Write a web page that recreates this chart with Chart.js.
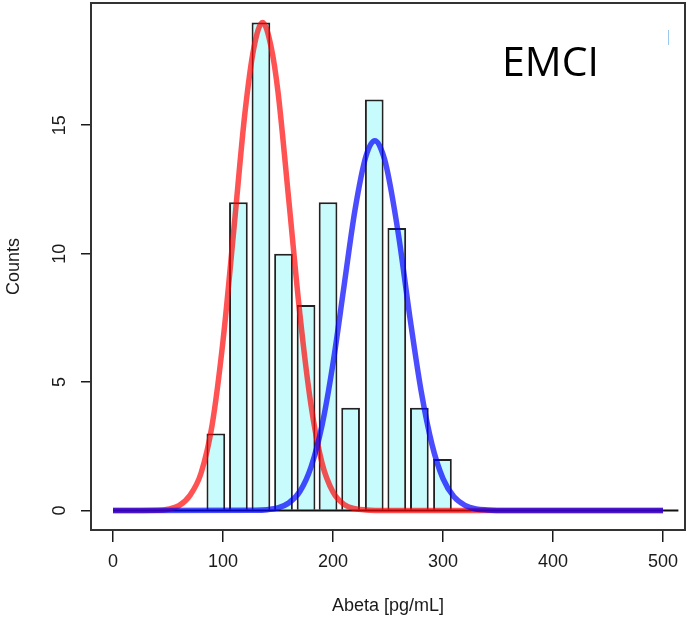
<!DOCTYPE html>
<html lang="en">
<head>
    <meta charset="UTF-8">
    <title>EMCI Abeta histogram</title>
    <script src="https://cdn.jsdelivr.net/npm/chart.js"></script>
    <style>
        body {
            margin: 0;
            padding: 0;
            background: #fff;
        }
        #wrap {
            width: 690px;
            height: 627px;
        }
    </style>
</head>
<body>

<div id="wrap">
    <canvas id="abetaChart" width="690" height="627"></canvas>
</div>

<script>
    // Histogram bins (centre of each bin) and their counts
    const binCentres = [93.5, 114, 134.5, 155, 175.5, 195.5, 216, 237.5, 258, 278.5, 299.5];
    const counts = [3, 12, 19, 10, 8, 12, 4, 16, 11, 4, 2];

    // Fitted component curves, low Abeta (red) and high Abeta (blue)
    const redX = [0, 40, 50, 60, 70, 80, 90, 100, 110, 120, 128, 136, 144, 150, 160, 170, 180, 190, 200, 210, 220, 230, 250, 500];
    const redY = [0, 0.01, 0.05, 0.19, 0.59, 1.45, 3.3, 6.6, 11.0, 15.5, 18.0, 19.0, 18.0, 16.3, 12.0, 7.6, 4.1, 1.85, 0.72, 0.24, 0.07, 0.02, 0, 0];
    const blueX = [0, 130, 140, 150, 160, 170, 180, 190, 200, 210, 220, 230, 238, 246, 250, 260, 270, 280, 290, 300, 310, 320, 330, 340, 360, 500];
    const blueY = [0, 0.01, 0.03, 0.10, 0.30, 0.75, 1.69, 3.31, 5.73, 8.73, 11.7, 13.8, 14.4, 13.8, 13.1, 10.6, 7.49, 4.68, 2.57, 1.24, 0.53, 0.20, 0.06, 0.02, 0, 0];

    // Zero reference line
    const baseX = [0, 514];
    const baseY = [0, 0];

    // Axis ticks
    const xTicks = [0, 100, 200, 300, 400, 500];
    const yTicks = [0, 5, 10, 15];

    const toPoints = (xs, ys) => xs.map((x, i) => ({ x: x, y: ys[i] }));

    const axisFont = { family: "'Liberation Sans', Arial, sans-serif", size: 18 };
    const ink = '#1a1a1a';

    // keep the plot box where it is, whatever the label sizes
    const noPad = s => {
        s.paddingTop = 0;
        s.paddingBottom = 0;
        s.paddingLeft = 0;
        s.paddingRight = 0;
    };

    // Plot frame plus the panel label
    const framePlugin = {
        id: 'frame',
        afterDraw(chart) {
            const { ctx, chartArea: a } = chart;
            ctx.save();
            ctx.strokeStyle = '#333';
            ctx.lineWidth = 2;
            ctx.strokeRect(a.left, a.top, a.right - a.left, a.bottom - a.top);

            ctx.fillStyle = '#000';
            ctx.font = "41px 'Open Sans', sans-serif";
            ctx.textAlign = 'left';
            ctx.textBaseline = 'alphabetic';
            ctx.fillText('EMCI', 502, 76);

            ctx.strokeStyle = 'rgba(140, 195, 240, 0.9)';
            ctx.lineWidth = 1;
            ctx.beginPath();
            ctx.moveTo(668.5, 30);
            ctx.lineTo(668.5, 45);
            ctx.stroke();
            ctx.restore();
        }
    };

    const ctx = document.getElementById('abetaChart').getContext('2d');
    const abetaChart = new Chart(ctx, {
        type: 'bar',
        data: {
            datasets: [
                {
                    type: 'line',
                    data: toPoints(blueX, blueY),
                    borderColor: 'rgba(0, 0, 255, 0.7)',
                    borderWidth: 5.5,
                    pointRadius: 0,
                    cubicInterpolationMode: 'monotone',
                    order: 1
                },
                {
                    type: 'line',
                    data: toPoints(redX, redY),
                    borderColor: 'rgba(255, 0, 0, 0.68)',
                    borderWidth: 5.5,
                    pointRadius: 0,
                    cubicInterpolationMode: 'monotone',
                    order: 2
                },
                {
                    type: 'line',
                    data: toPoints(baseX, baseY),
                    borderColor: '#111',
                    borderWidth: 2,
                    pointRadius: 0,
                    order: 3
                },
                {
                    type: 'bar',
                    data: toPoints(binCentres, counts),
                    backgroundColor: '#c8fcfc',
                    borderColor: '#222',
                    borderWidth: 2,
                    barPercentage: 0.85,
                    categoryPercentage: 1,
                    order: 4
                }
            ]
        },
        options: {
            responsive: false,
            animation: false,
            devicePixelRatio: 1,
            layout: { padding: { top: 3, right: 5, bottom: 0, left: 0 } },
            plugins: {
                legend: { display: false },
                tooltip: { enabled: false }
            },
            scales: {
                x: {
                    type: 'linear',
                    min: -20,
                    max: 520,
                    offset: false,
                    afterBuildTicks: s => { s.ticks = xTicks.map(v => ({ value: v })); },
                    afterFit: s => { s.height = 97; noPad(s); },
                    grid: {
                        offset: false,
                        drawOnChartArea: false,
                        tickLength: 12,
                        color: ink,
                        lineWidth: 1.5
                    },
                    border: { display: false },
                    ticks: {
                        font: axisFont,
                        color: ink,
                        padding: 9,
                        maxRotation: 0,
                        minRotation: 0,
                        autoSkip: false
                    },
                    title: {
                        display: true,
                        text: 'Abeta [pg/mL]',
                        font: axisFont,
                        color: ink,
                        padding: { top: 0, bottom: 10 }
                    }
                },
                y: {
                    type: 'linear',
                    min: -0.76,
                    max: 19.76,
                    afterBuildTicks: s => { s.ticks = yTicks.map(v => ({ value: v })); },
                    afterFit: s => { s.width = 91; noPad(s); },
                    grid: {
                        drawOnChartArea: false,
                        tickLength: 10,
                        color: ink,
                        lineWidth: 1.5
                    },
                    border: { display: false },
                    ticks: {
                        font: axisFont,
                        color: ink,
                        padding: 11,
                        minRotation: 90,
                        maxRotation: 90,
                        crossAlign: 'center',
                        autoSkip: false
                    },
                    title: {
                        display: true,
                        text: 'Counts',
                        font: axisFont,
                        color: ink,
                        padding: { top: 3, bottom: 0 }
                    }
                }
            }
        },
        plugins: [framePlugin]
    });
</script>
</body>
</html>
